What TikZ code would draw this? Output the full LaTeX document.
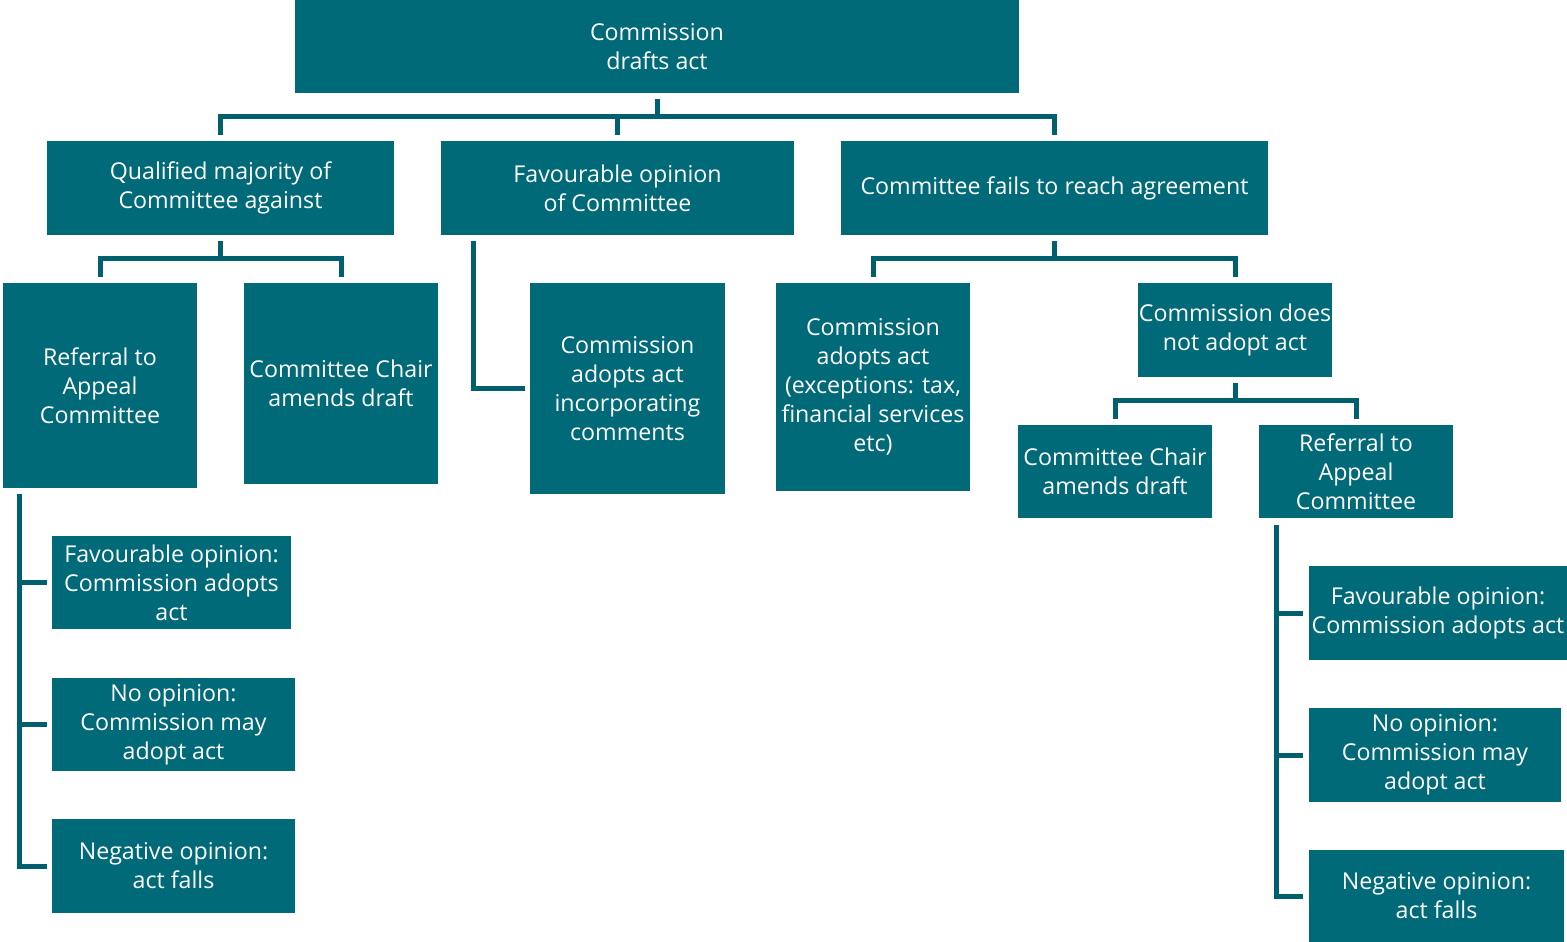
\documentclass[tikz,border=0pt]{standalone}
\usepackage{fontspec}
\setmainfont{Open Sans}
\usetikzlibrary{calc}
\definecolor{boxteal}{RGB}{0,106,121}
\definecolor{lineteal}{RGB}{0,96,110}
\tikzset{
  stepbox/.style={fill=boxteal, draw=none, text=white, align=center,
    inner sep=0pt, font=\fontsize{17.4pt}{21.75pt}\selectfont},
  conn/.style={draw=lineteal, line width=3.75pt, line cap=butt, line join=miter},
}
\newcommand{\bx}[6]{\node[stepbox, minimum width=#4*0.75pt, minimum height=#5*0.75pt] (#1) at (#2,#3) {#6};}
\begin{document}
\begin{tikzpicture}[x=0.75pt, y=-0.75pt]
\useasboundingbox (0,0) rectangle (1567,942);
% level 0
\bx{top}{657}{46.5}{724}{93}{Commission\\drafts act}
% level 1
\bx{qual}{220.5}{188}{347}{94}{Qualified majority of\\Committee against}
\bx{fav}{617.5}{188}{353}{94}{Favourable opinion\\of Committee}
\bx{fails}{1054.5}{188}{427}{94}{Committee fails to reach agreement}
% level 2
\bx{refL}{100}{385.5}{194}{205}{Referral to\\Appeal\\Committee}
\bx{chairL}{341}{383.5}{194}{201}{Committee Chair\\amends draft}
\bx{adoptInc}{627.5}{388.5}{195}{211}{Commission\\adopts act\\incorporating\\comments}
\bx{adoptExc}{873}{387}{194}{208}{Commission\\adopts act\\(exceptions: tax,\\financial services\\etc)}
\bx{notAdopt}{1235}{330}{194}{94}{Commission does\\not adopt act}
% level 3
\bx{chairR}{1115}{471.5}{194}{93}{Committee Chair\\amends draft}
\bx{refR}{1356}{471.5}{194}{93}{Referral to\\Appeal\\Committee}
% appeal outcomes, left
\bx{favL}{171.5}{582.5}{239}{93}{Favourable opinion:\\Commission adopts\\act}
\bx{noL}{173.5}{724.5}{243}{93}{No opinion:\\Commission may\\adopt act}
\bx{negL}{173.5}{866}{243}{94}{Negative opinion:\\act falls}
% appeal outcomes, right
\bx{favR}{1438}{613}{258}{94}{Favourable opinion:\\Commission adopts act}
\bx{noR}{1435}{755}{252}{94}{No opinion:\\Commission may\\adopt act}
\bx{negR}{1436.5}{896}{255}{92}{Negative opinion:\\act falls}

% connectors from the draft to the committee outcomes
\draw[conn] ($(top.south)+(0,6)$) -- ($(top.south)+(0,24)$);
\draw[conn] ($(qual.north)+(0,-6)$) |- ($(fails.north)+(0,-24)$) -- ($(fails.north)+(0,-6)$);
\draw[conn] ($(fav.north)+(0,-6)$) -- ($(fav.north)+(0,-24)$);
% qualified majority against
\draw[conn] ($(qual.south)+(0,6)$) -- ($(qual.south)+(0,24)$);
\draw[conn] ($(refL.north)+(0,-6)$) |- ($(chairL.north)+(0,-24)$) -- ($(chairL.north)+(0,-6)$);
% favourable opinion
\draw[conn] ($(fav.south west)+(33,6)$) |- ($(adoptInc.west)+(-5,0)$);
% no agreement
\draw[conn] ($(fails.south)+(0,6)$) -- ($(fails.south)+(0,24)$);
\draw[conn] ($(adoptExc.north)+(0,-6)$) |- ($(notAdopt.north)+(0,-24)$) -- ($(notAdopt.north)+(0,-6)$);
% commission does not adopt
\draw[conn] ($(notAdopt.south)+(0,6)$) -- ($(notAdopt.south)+(0,24)$);
\draw[conn] ($(chairR.north)+(0,-6)$) |- ($(refR.north)+(0,-24)$) -- ($(refR.north)+(0,-6)$);
% appeal committee, left
\draw[conn] ($(refL.south west)+(17,6)$) |- ($(negL.west)+(-5,0)$);
\draw[conn] ($(favL.west)+(-32,0)$) -- ($(favL.west)+(-5,0)$);
\draw[conn] ($(noL.west)+(-34,0)$) -- ($(noL.west)+(-5,0)$);
% appeal committee, right
\draw[conn] ($(refR.south west)+(18,7)$) |- ($(negR.west)+(-6,0)$);
\draw[conn] ($(favR.west)+(-32,0)$) -- ($(favR.west)+(-6,0)$);
\draw[conn] ($(noR.west)+(-32,0)$) -- ($(noR.west)+(-6,0)$);
\end{tikzpicture}
\end{document}
